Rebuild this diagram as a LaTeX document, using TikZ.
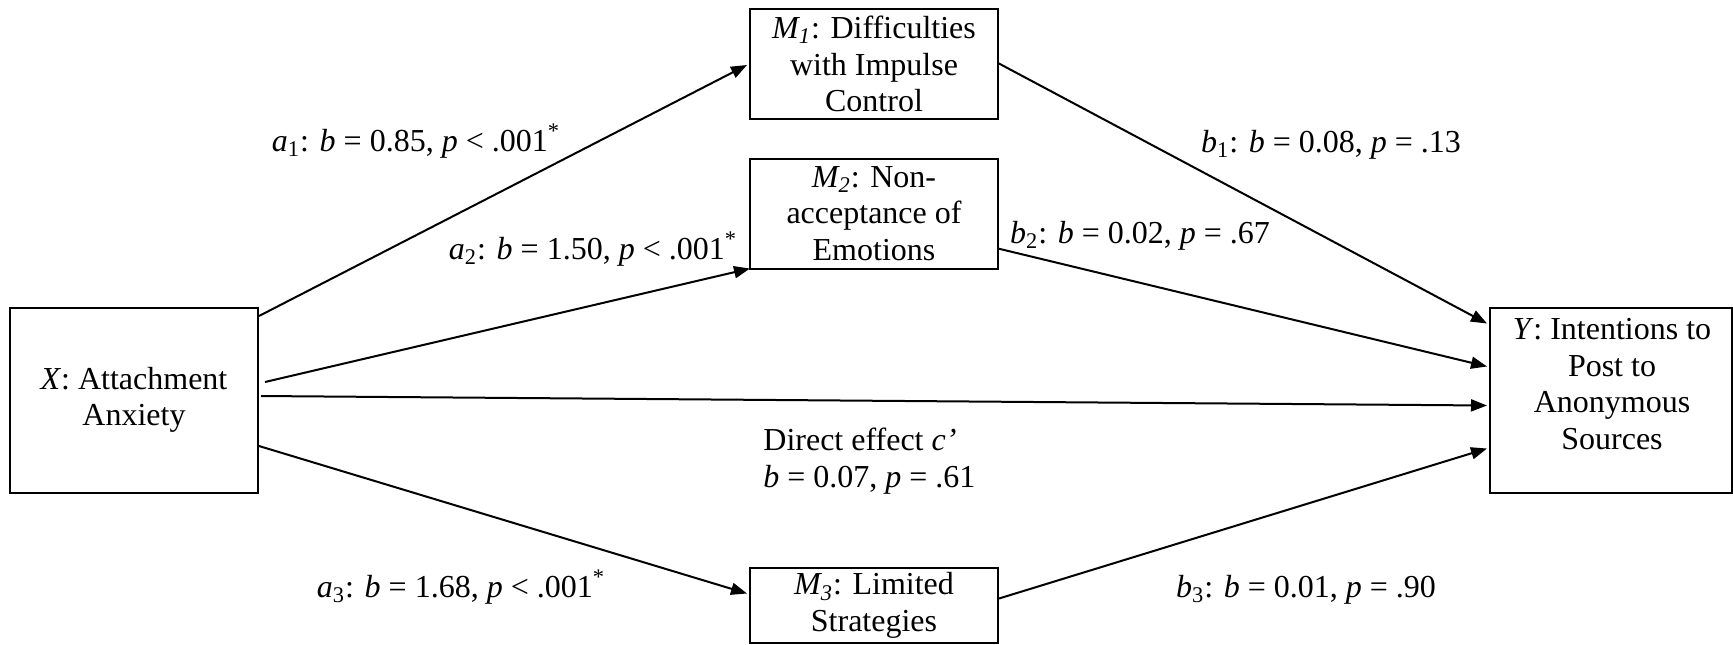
\documentclass[tikz,border=0pt]{standalone}
\usepackage{fontspec}
\setmainfont{Liberation Serif}
\usetikzlibrary{arrows.meta,calc}
\begin{document}
\begin{tikzpicture}[x=0.5pt,y=-0.5pt,
  every node/.style={font=\fontsize{16}{18.3}\selectfont, inner sep=0pt},
  box/.style={draw, line width=1pt, align=center},
  conn/.style={line width=1pt, -{Triangle[length=8pt,width=6pt]}},
  lab/.style={anchor=base}]
\useasboundingbox (0,0) rectangle (1733,644);
\node[box, minimum width=124pt, minimum height=92.5pt] (X) at (134,400) {\textit{X}: Attachment\\Anxiety};
\node[box, minimum width=124pt, minimum height=55pt] (M1) at (874,64) {\textit{M\textsubscript{1}}: Difficulties\\with Impulse\\Control};
\node[box, minimum width=124pt, minimum height=55pt] (M2) at (874,213.5) {\textit{M\textsubscript{2}}: Non-\\acceptance of\\Emotions};
\node[box, minimum width=124pt, minimum height=37.5pt] (M3) at (874,605.5) {\textit{M\textsubscript{3}}: Limited\\Strategies};
\node[box, minimum width=121pt, minimum height=92.5pt] (Y) at (1611,400.5) {};
\node[align=center] (Yt) at (1612,384) {\textit{Y}: Intentions to\\Post to\\Anonymous\\Sources};

\draw[conn] ($(X.east)+(0,-84)$) -- ($(M1.west)+(-2,1)$);
\draw[conn] ($(X.east)+(6,-18)$) -- ($(M2.south west)+(1,-1)$);
\draw[conn] ($(X.east)+(2,-4)$) -- ($(Y.west)+(-2,5)$);
\draw[conn] ($(X.east)+(0,46)$) -- ($(M3.west)+(-2,-12)$);
\draw[conn] ($(M1.east)+(-1,-1)$) -- ($(Y.west)+(-2,-77)$);
\draw[conn] ($(M2.east)+(-1,35)$) -- ($(Y.west)+(-2,-34)$);
\draw[conn] ($(M3.east)+(0,-7)$) -- ($(Y.west)+(-2,48)$);

\node[lab] (la1) at (416,151) {\textit{a}\textsubscript{1}: \textit{b} = 0.85, \textit{p} < .001\textsuperscript{*}};
\node[lab] (la2) at (593,259) {\textit{a}\textsubscript{2}: \textit{b} = 1.50, \textit{p} < .001\textsuperscript{*}};
\node[lab] (lb1) at (1331,152) {\textit{b}\textsubscript{1}: \textit{b} = 0.08, \textit{p} = .13};
\node[lab] (lb2) at (1140,243) {\textit{b}\textsubscript{2}: \textit{b} = 0.02, \textit{p} = .67};
\node[lab] (la3) at (461,597) {\textit{a}\textsubscript{3}: \textit{b} = 1.68, \textit{p} < .001\textsuperscript{*}};
\node[lab] (lb3) at (1306,597) {\textit{b}\textsubscript{3}: \textit{b} = 0.01, \textit{p} = .90};
\node[align=left, anchor=base west] (lc) at (763,487) {Direct effect \textit{c’}\\\textit{b} = 0.07, \textit{p} = .61};
\end{tikzpicture}
\end{document}
